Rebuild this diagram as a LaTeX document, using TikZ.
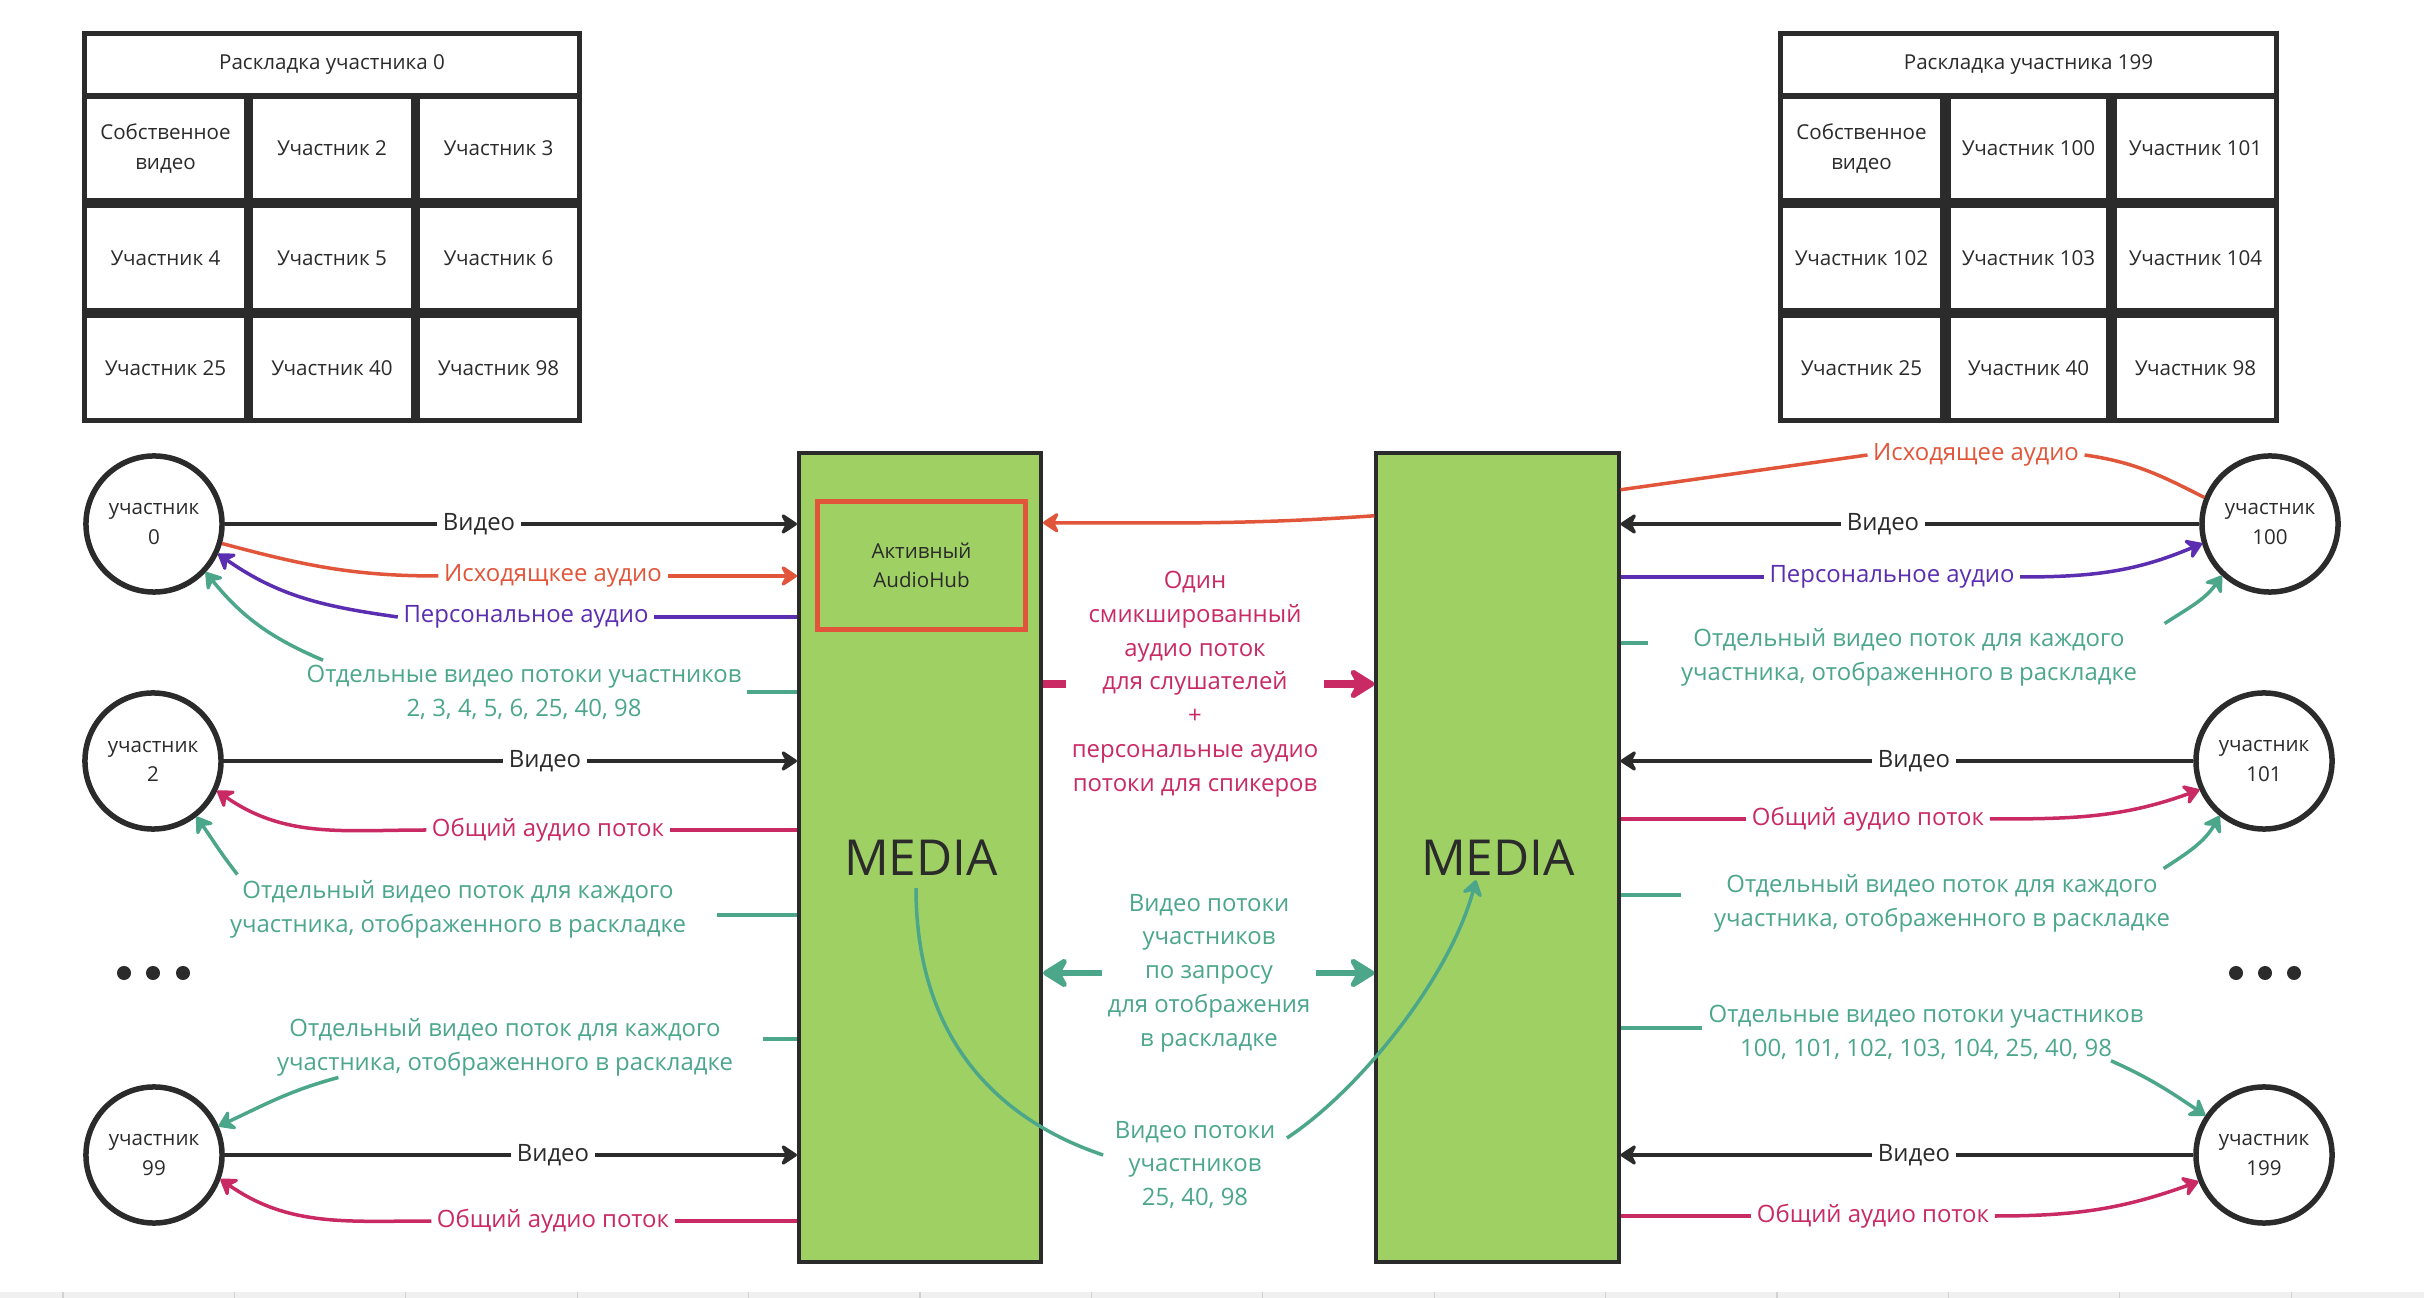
\documentclass[tikz,border=0pt]{standalone}
\usepackage{fontspec}
\setmainfont{Open Sans}
\usetikzlibrary{arrows.meta,calc}
\definecolor{cblk}{HTML}{2B2B2B}
\definecolor{corg}{HTML}{E1563A}
\definecolor{cpur}{HTML}{5B2DB0}
\definecolor{ccrm}{HTML}{C92A63}
\definecolor{cgrn}{HTML}{4CA78A}
\definecolor{cmed}{HTML}{9FD064}
\newcommand{\lblfont}{\fontsize{6.8}{9.6}\selectfont}
\newcommand{\smfont}{\fontsize{5.85}{8.3}\selectfont}
\newcommand{\bigfont}{\fontsize{14.1}{16}\selectfont}
\begin{document}
\begin{tikzpicture}[x=0.01cm,y=0.01cm,
  conn/.style={line width=0.035cm},
  blk/.style={conn,draw=cblk},
  org/.style={conn,draw=corg},
  pur/.style={conn,draw=cpur},
  crm/.style={conn,draw=ccrm},
  grn/.style={conn,draw=cgrn},
  crmT/.style={line width=0.08cm,draw=ccrm},
  grnT/.style={line width=0.065cm,draw=cgrn},
  arr/.style={-{Stealth[length=0.19cm,width=0.25cm,inset=0.065cm,round]}},
  barr/.style={-{Stealth[length=0.3cm,width=0.37cm,inset=0.1cm,round]}},
  lbl/.style={fill=white,inner xsep=0.05cm,inner ysep=0.02cm,font=\lblfont,align=center},
  pc/.style={circle,draw=cblk,line width=0.055cm,minimum size=1.36cm,inner sep=0pt,font=\smfont,align=center,text=cblk},
  tcell/.style 2 args={rectangle,fill=white,minimum width=#1*0.01cm,minimum height=#2*0.01cm,inner sep=0pt,font=\smfont,align=center,text=cblk},
  media/.style={rectangle,draw=cblk,fill=cmed,line width=0.04cm,minimum width=2.42cm,minimum height=8.09cm,inner sep=0pt},
]
\useasboundingbox (0,0) rectangle (2424,-1298);
\fill[white] (0,0) rectangle (2424,-1298);

% bottom strip
\fill[black!6] (0,-1292) rectangle (2424,-1298);
\foreach \i in {0,...,13} \draw[black!18,line width=0.012cm] ({63+\i*171.4},-1292) -- ++(0,-6);

% left table
\fill[cblk] (82,-31) rectangle (582,-423);
\node[tcell={490}{57}] (lth) at (332,-64.5) {Раскладка участника 0};
\node[tcell={157}{99}] (l11) at (165.5,-148.5) {Собственное\\видео};
\node[tcell={158}{99}] (l12) at (332,-148.5) {Участник 2};
\node[tcell={157}{99}] (l13) at (498.5,-148.5) {Участник 3};
\node[tcell={157}{100}] (l21) at (165.5,-258) {Участник 4};
\node[tcell={158}{100}] (l22) at (332,-258) {Участник 5};
\node[tcell={157}{100}] (l23) at (498.5,-258) {Участник 6};
\node[tcell={157}{100}] (l31) at (165.5,-368) {Участник 25};
\node[tcell={158}{100}] (l32) at (332,-368) {Участник 40};
\node[tcell={157}{100}] (l33) at (498.5,-368) {Участник 98};

% right table
\fill[cblk] (1778,-31) rectangle (2279,-423);
\node[tcell={491}{57}] (rth) at (2028.5,-64.5) {Раскладка участника 199};
\node[tcell={157}{99}] (r11) at (1861.5,-148.5) {Собственное\\видео};
\node[tcell={155}{99}] (r12) at (2028.5,-148.5) {Участник 100};
\node[tcell={157}{99}] (r13) at (2195.5,-148.5) {Участник 101};
\node[tcell={157}{100}] (r21) at (1861.5,-258) {Участник 102};
\node[tcell={155}{100}] (r22) at (2028.5,-258) {Участник 103};
\node[tcell={157}{100}] (r23) at (2195.5,-258) {Участник 104};
\node[tcell={157}{100}] (r31) at (1861.5,-368) {Участник 25};
\node[tcell={155}{100}] (r32) at (2028.5,-368) {Участник 40};
\node[tcell={157}{100}] (r33) at (2195.5,-368) {Участник 98};

% participants
\node[pc] (c0) at (154,-524) {участник\\0};
\node[pc] (c2) at (153,-761) {участник\\2};
\node[pc] (c99) at (154,-1155) {участник\\99};
\node[pc] (c100) at (2270,-524) {участник\\100};
\node[pc] (c101) at (2264,-761) {участник\\101};
\node[pc] (c199) at (2264,-1155) {участник\\199};
\foreach \x in {124,153,183} \fill[cblk] (\x,-973) circle (0.07cm);
\foreach \x in {2236,2265,2294} \fill[cblk] (\x,-973) circle (0.07cm);

% media servers
\node[media] (m1) at (920,-857.5) {};
\node[media] (m2) at (1497.5,-857.5) {};
\node[font=\bigfont,text=cblk] (mt1) at (921,-858) {MEDIA};
\node[font=\bigfont,text=cblk] (mt2) at (1498,-858) {MEDIA};
\node[draw=corg,line width=0.05cm,fill=cmed,minimum width=2.07cm,minimum height=1.27cm,font=\smfont,align=center,text=cblk] (ah) at (921.5,-565.5) {Активный\\AudioHub};

% labels left
\node[lbl,text=cblk] (lv0) at (479,-524) {Видео};
\node[lbl,text=corg] (lo0) at (553,-576) {Исходящкее аудио};
\node[lbl,text=cpur] (lp0) at (526,-617) {Персональное аудио};
\node[lbl,text=cgrn] (lg0) at (524,-692) {Отдельные видео потоки участников\\2, 3, 4, 5, 6, 25, 40, 98};
\node[lbl,text=cblk] (lv2) at (545,-761) {Видео};
\node[lbl,text=ccrm] (lc2) at (548,-830) {Общий аудио поток};
\node[lbl,text=cgrn] (lg2) at (458,-909) {Отдельный видео поток для каждого\\участника, отображенного в раскладке};
\node[lbl,text=cgrn] (lg99) at (505,-1047) {Отдельный видео поток для каждого\\участника, отображенного в раскладке};
\node[lbl,text=cblk] (lv99) at (553,-1155) {Видео};
\node[lbl,text=ccrm] (lc99) at (553,-1221) {Общий аудио поток};

% labels middle
\node[lbl,text=ccrm] (lmix) at (1195,-684) {Один\\смикшированный\\аудио поток\\для слушателей\\+\\персональные аудио\\потоки для спикеров};
\node[lbl,text=cgrn] (lreq) at (1209,-973) {Видео потоки\\участников\\по запросу\\для отображения\\в раскладке};
\node[lbl,text=cgrn] (l25) at (1195,-1165) {Видео потоки\\участников\\25, 40, 98};

% labels right
\node[lbl,text=corg] (lo100) at (1976,-455) {Исходящее аудио};
\node[lbl,text=cblk] (lv100) at (1883,-524) {Видео};
\node[lbl,text=cpur] (lp100) at (1892,-577) {Персональное аудио};
\node[lbl,text=cgrn] (lg100) at (1909,-657) {Отдельный видео поток для каждого\\участника, отображенного в раскладке};
\node[lbl,text=cblk] (lv101) at (1914,-761) {Видео};
\node[lbl,text=ccrm] (lc101) at (1868,-819) {Общий аудио поток};
\node[lbl,text=cgrn] (lg101) at (1942,-903) {Отдельный видео поток для каждого\\участника, отображенного в раскладке};
\node[lbl,text=cgrn] (lg199) at (1926,-1032) {Отдельные видео потоки участников\\100, 101, 102, 103, 104, 25, 40, 98};
\node[lbl,text=cblk] (lv199) at (1914,-1155) {Видео};
\node[lbl,text=ccrm] (lc199) at (1873,-1216) {Общий аудио поток};

% connectors left
\draw[blk] (c0.east) -- (lv0.west);
\draw[blk,arr] (lv0.east) -- (m1.west |- lv0.east);
\draw[org] (c0.-16) to[out=-15,in=180] (lo0.west);
\draw[org,arr] (lo0.east) -- (m1.west |- lo0.east);
\draw[pur] (m1.west |- lp0.east) -- (lp0.east);
\draw[pur,arr] (lp0.west) to[out=172,in=-35] (c0.-25);
\draw[grn] (m1.west |- lg0.east) -- (lg0.east);
\draw[grn,arr] ($(lg0.north west)+(22,2)$) to[out=157,in=-51] (c0.-43);

\draw[blk] (c2.east) -- (lv2.west);
\draw[blk,arr] (lv2.east) -- (m1.west |- lv2.east);
\draw[crm] (m1.west |- lc2.east) -- (lc2.east);
\draw[crm,arr] (lc2.west) to[out=180,in=-35] (c2.-25);
\draw[grn] ($(m1.west |- lg2.east)+(0,-6)$) -- ++(-80,0);
\draw[grn,arr] ($(lg2.north west)+(13,3)$) to[out=128,in=-55] (c2.-52);

\draw[grn] ($(m1.west |- lg99.east)+(0,8)$) -- ++(-34,0);
\draw[grn,arr] ($(lg99.south west)+(67,1)$) to[out=195,in=25] (c99.24);
\draw[blk] (c99.east) -- (lv99.west);
\draw[blk,arr] (lv99.east) -- (m1.west |- lv99.east);
\draw[crm] (m1.west |- lc99.east) -- (lc99.east);
\draw[crm,arr] (lc99.west) to[out=180,in=-35] (c99.-20);

% connectors middle
\draw[org,arr] ($(m2.north west)+(0,-65)$) to[out=184,in=0] ($(m1.north east)+(0,-72)$);
\draw[crmT] (m1.east |- lmix.west) -- (lmix.west);
\draw[crmT,barr] (lmix.east) -- (m2.west |- lmix.east);
\draw[grnT,barr] (lreq.west) -- (m1.east |- lreq.west);
\draw[grnT,barr] (lreq.east) -- (m2.west |- lreq.east);
\draw[grn] ($(mt1.south)+(-5,0)$) .. controls +(0,-152) and +(-104,35) .. ($(l25.west)+(-6,10)$);
\draw[grn,arr] ($(l25.east)+(6,27)$) .. controls +(73,48) and +(-26,-97) .. ($(mt2.south)+(-22,8)$);

% connectors right
\draw[org] ($(m2.north east)+(0,-39)$) -- (lo100.west);
\draw[org] (lo100.east) to[out=-8,in=153] (c100.158);
\draw[blk] (c100.west) -- (lv100.east);
\draw[blk,arr] (lv100.west) -- (m2.east |- lv100.west);
\draw[pur] (m2.east |- lp100.west) -- (lp100.west);
\draw[pur,arr] (lp100.east) to[out=0,in=203] (c100.196);
\draw[grn] ($(m2.east |- lg100.west)+(0,14)$) -- ++(27,0);
\draw[grn,arr] ($(lg100.north east)+(22,2)$) to[out=33,in=235] (c100.227);

\draw[blk] (c101.west) -- (lv101.east);
\draw[blk,arr] (lv101.west) -- (m2.east |- lv101.west);
\draw[crm] (m2.east |- lc101.west) -- (lc101.west);
\draw[crm,arr] (lc101.east) to[out=0,in=200] (c101.204);
\draw[grn] ($(m2.east |- lg101.west)+(0,8)$) -- ++(60,0);
\draw[grn,arr] ($(lg101.north east)+(-12,3)$) to[out=33,in=240] (c101.231);

\draw[grn] ($(m2.east |- lg199.west)+(0,4)$) -- ++(81,0);
\draw[grn,arr] ($(lg199.south east)+(-38,1)$) to[out=-24,in=146] (c199.146);
\draw[blk] (c199.west) -- (lv199.east);
\draw[blk,arr] (lv199.west) -- (m2.east |- lv199.west);
\draw[crm] (m2.east |- lc199.west) -- (lc199.west);
\draw[crm,arr] (lc199.east) to[out=0,in=200] (c199.202);
\end{tikzpicture}
\end{document}
